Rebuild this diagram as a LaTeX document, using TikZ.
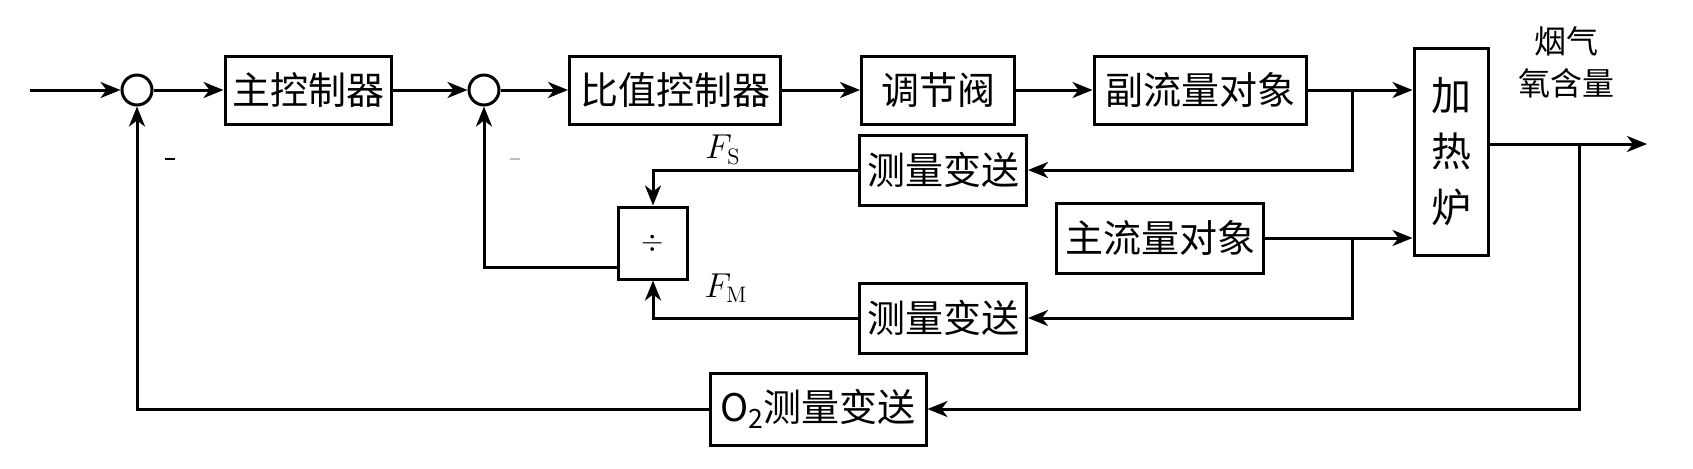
\documentclass[tikz,border=0pt]{standalone}
\usepackage{fontspec}
\newfontfamily\cjk{Noto Sans CJK SC}
\usetikzlibrary{arrows.meta}
\tikzset{
  blk/.style={draw, line width=1.5pt, inner sep=0pt, font=\cjk\fontsize{19pt}{22pt}\selectfont},
  sumc/.style={draw, circle, line width=1.5pt, minimum size=15pt, inner sep=0pt},
  arr/.style={line width=1.5pt, -{Stealth[length=10pt,width=8pt,inset=3pt]}},
  lbl/.style={font=\cjk\fontsize{16pt}{18pt}\selectfont, inner sep=0pt},
  sig/.style={font=\fontsize{16pt}{18pt}\selectfont, inner sep=0pt}
}
\begin{document}
\begin{tikzpicture}[x=0.5pt,y=-0.5pt]
\useasboundingbox (0,0) rectangle (1693,468);
\coordinate (in) at (30,90);
\node[sumc] (c1) at (137,90) {};
\node[blk, minimum width=83pt, minimum height=34pt] (b1) at (308,90) {主控制器};
\node[sumc] (c2) at (484,90) {};
\node[blk, minimum width=105.5pt, minimum height=34pt] (b2) at (675,90) {比值控制器};
\node[blk, minimum width=76.5pt, minimum height=34pt] (b3) at (938,90) {调节阀};
\node[blk, minimum width=106pt, minimum height=34pt] (b4) at (1200,90) {副流量对象};
\node[blk, minimum width=37pt, minimum height=103.5pt, align=center, font=\cjk\fontsize{20pt}{22pt}\selectfont] (fur) at (1451,152) {加\\[6pt]热\\[6pt]炉};
\node[lbl, align=center] (gas) at (1566,62) {烟气\\[3pt]氧含量};
\coordinate (out) at (1647,144);
\coordinate (j3) at (1579,144);
\node[blk, minimum width=83.5pt, minimum height=35pt] (m1) at (943,170) {测量变送};
\node[blk, minimum width=34.5pt, minimum height=36pt, font=\fontsize{14pt}{16pt}\selectfont] (div) at (653,243) {$\div$};
\node[blk, minimum width=103.5pt, minimum height=35pt] (b5) at (1160,238) {主流量对象};
\node[blk, minimum width=83.5pt, minimum height=35pt] (m2) at (943,318) {测量变送};
\node[blk, minimum width=108pt, minimum height=36pt] (o2) at (818,409) {O\textsubscript{2}测量变送};
\coordinate (j1) at (1352,90);
\coordinate (j2) at (1352,238);
\node[sig] (fs) at (723,150) {$F_{\mathrm{S}}$};
\node[sig] (fm) at (726,288) {$F_{\mathrm{M}}$};
\node[inner sep=0pt] (neg1) at (170,159) {\rule{5pt}{1.4pt}};
\node[inner sep=0pt, text=black!25] (neg2) at (515,159) {\rule{5pt}{0.8pt}};
% connectors
\draw[arr] (in) -- (c1.west);
\draw[arr] (c1.east) -- (b1.west);
\draw[arr] (b1.east) -- (c2.west);
\draw[arr] (c2.east) -- (b2.west);
\draw[arr] (b2.east) -- (b3.west);
\draw[arr] (b3.east) -- (b4.west);
\draw[arr] (b4.east) -- (fur.west |- b4.east);
\draw[arr] (j1) |- (m1.east);
\draw[arr] (m1.west) -| (div.north);
\draw[arr] (b5.east) -- (fur.west |- b5.east);
\draw[arr] (j2) |- (m2.east);
\draw[arr] (m2.west) -| (div.south);
\draw[arr] ([yshift=-12pt]div.west) -| (c2.south);
\draw[arr] (fur.east |- out) -- (out);
\draw[arr] (j3) |- (o2.east);
\draw[arr] (o2.west) -| (c1.south);
\end{tikzpicture}
\end{document}
